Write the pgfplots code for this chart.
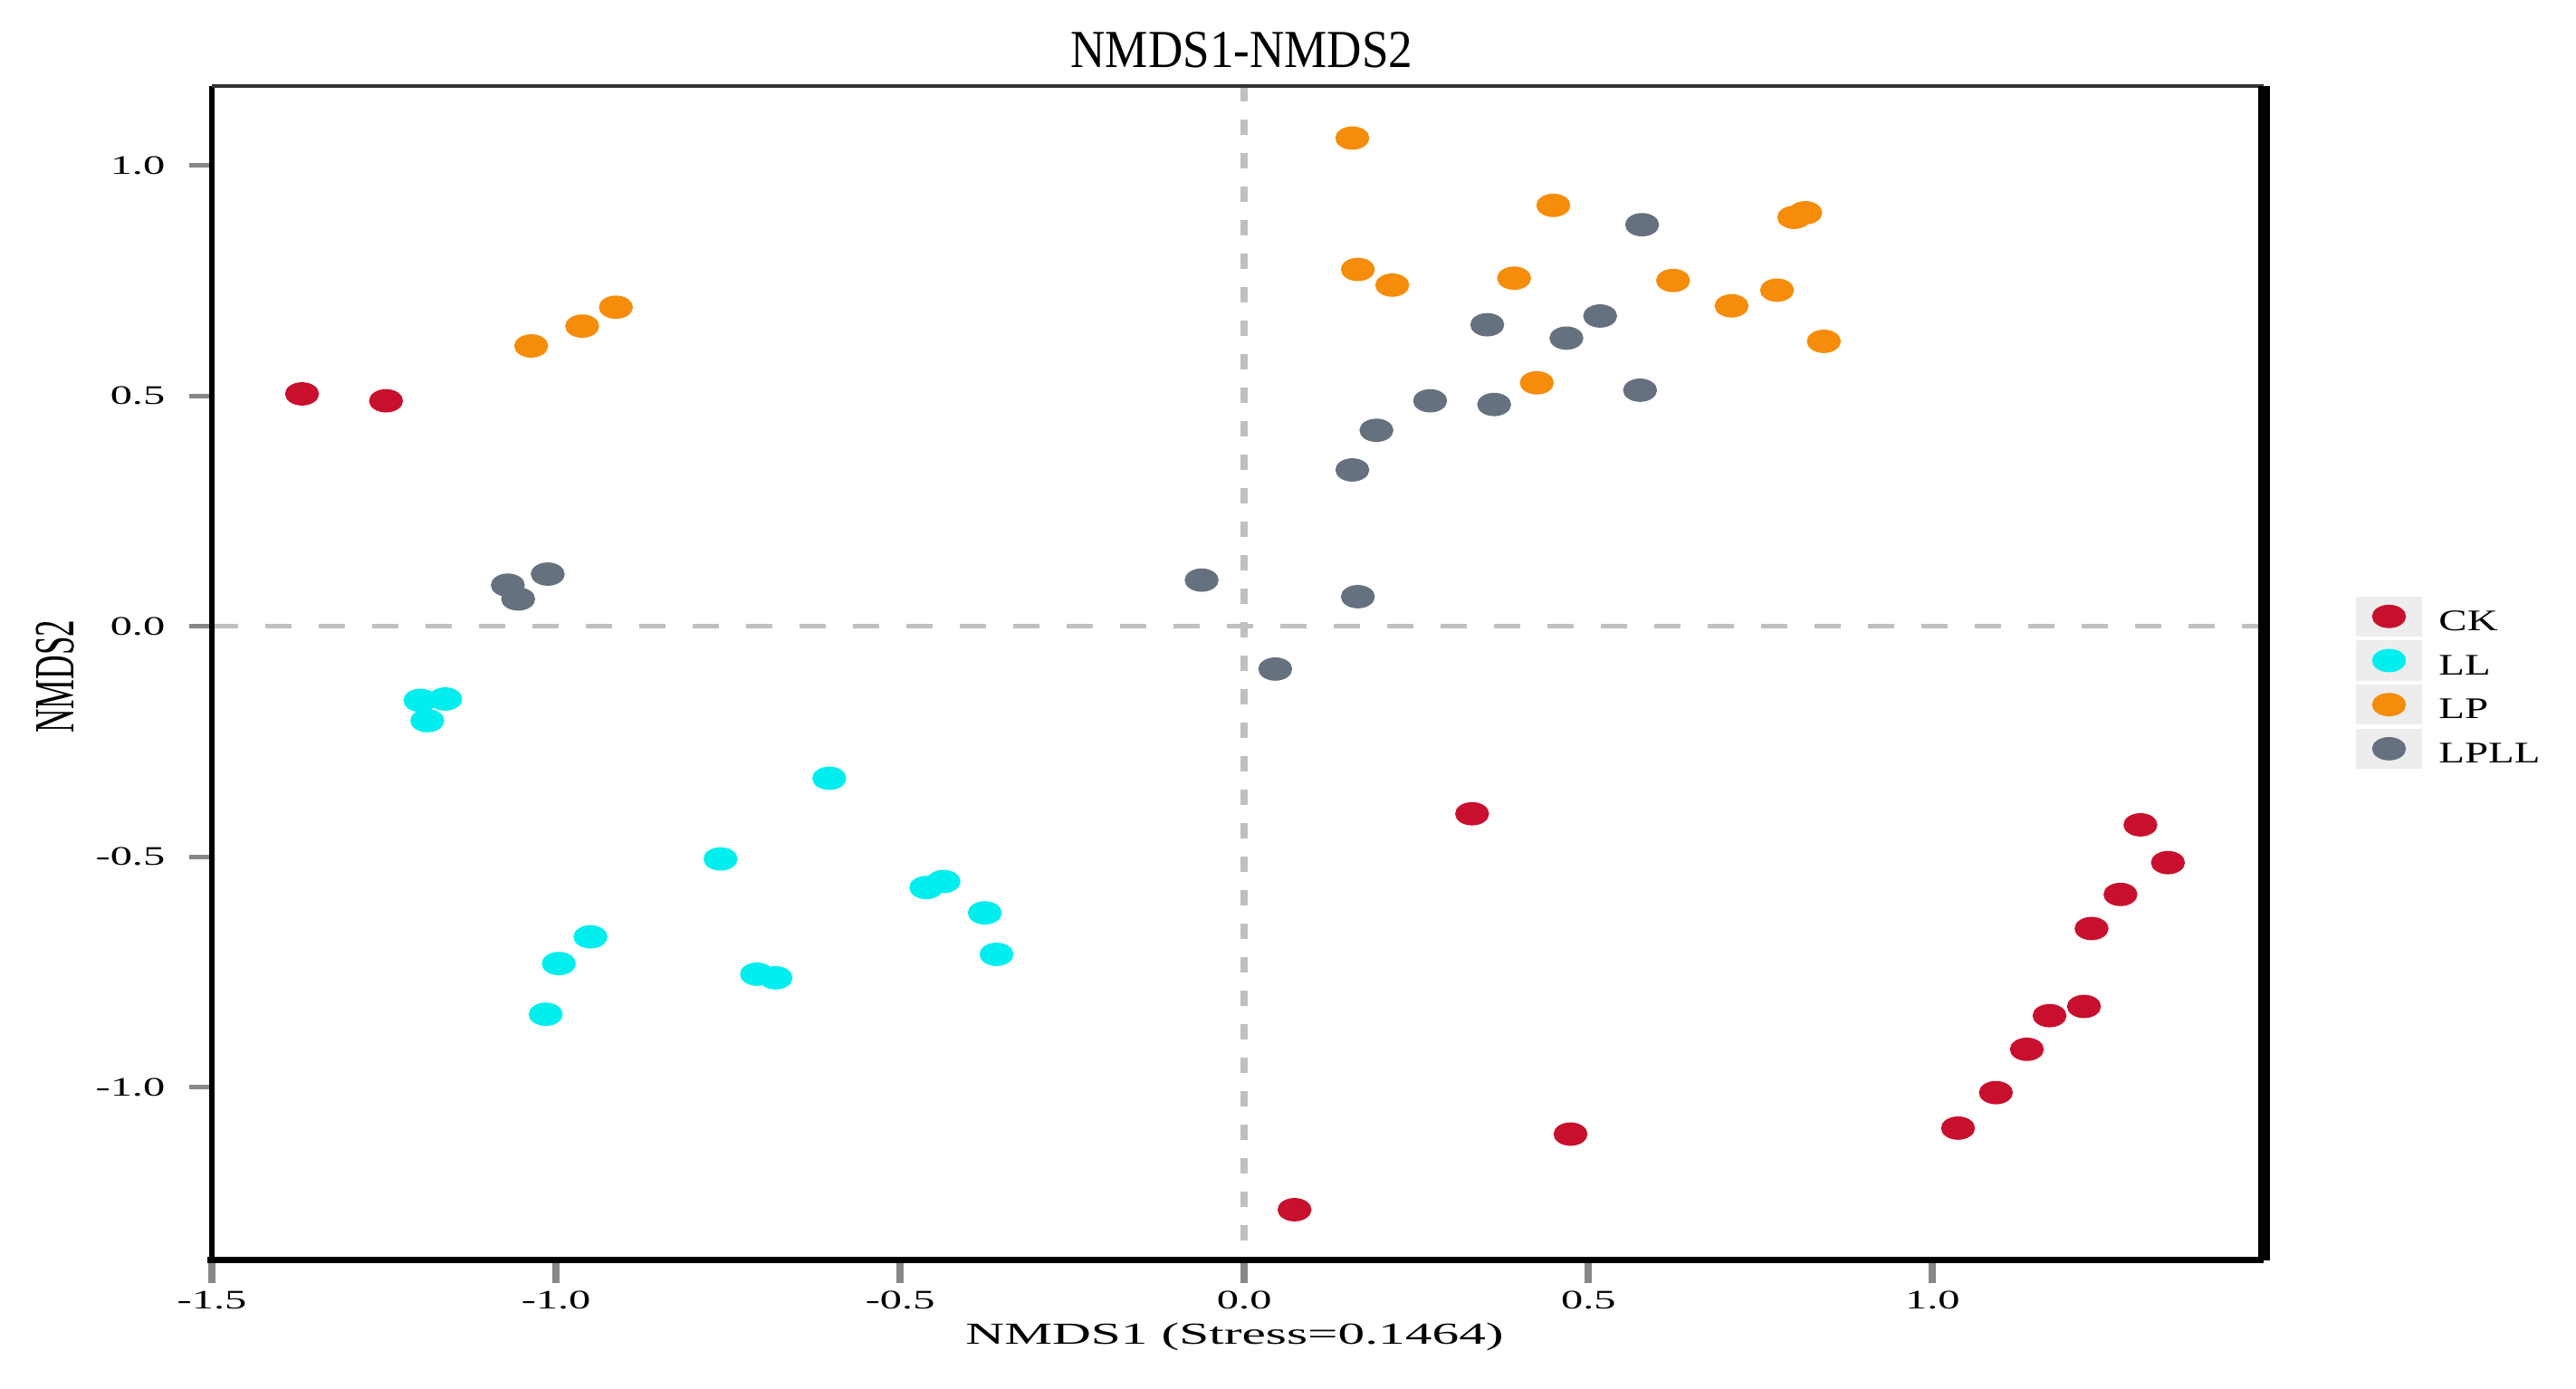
\documentclass[border=0pt]{standalone}
\usepackage{fontspec}
\setmainfont{Liberation Serif}
\newfontfamily\tickfont{Liberation Serif}[FakeStretch=1.64]
\newfontfamily\xlabfont{Liberation Serif}[FakeStretch=1.76]
\newfontfamily\legfont{Liberation Serif}[FakeStretch=1.42]
\newfontfamily\titlefont{Liberation Serif}[FakeStretch=0.9]
\usepackage{pgfplots}
\pgfplotsset{compat=1.18}

\definecolor{ck}{RGB}{200,16,46}
\definecolor{ll}{RGB}{0,238,238}
\definecolor{lp}{RGB}{245,140,10}
\definecolor{lpll}{RGB}{102,113,128}
\definecolor{refgray}{RGB}{192,192,192}
\definecolor{tickgray}{RGB}{135,135,135}

\pgfplotsset{
  grp/.style={only marks, mark=*, color=#1, mark size=1.22mm,
    mark options={xscale=1.48, fill=#1, draw=#1}},
}

\begin{document}
\begin{tikzpicture}
\useasboundingbox (0,0) rectangle (284.5mm,153.4mm);
\begin{axis}[
  at={(23.4mm,14.2mm)}, anchor=south west,
  width=226.6mm, height=129.7mm, scale only axis,
  xmin=-1.5, xmax=1.481, ymin=-1.376, ymax=1.172,
  clip=false,
  axis line style={draw=none},
  xtick pos=bottom, ytick pos=left,
  tick align=outside,
  major tick length=2.5mm,
  xtick style={color=tickgray, line width=0.8mm},
  ytick style={color=tickgray, line width=0.5mm},
  xtick={-1.5,-1.0,-0.5,0.0,0.5,1.0},
  xticklabels={-1.5,-1.0,-0.5,0.0,0.5,1.0},
  ytick={-1.0,-0.5,0.0,0.5,1.0},
  yticklabels={-1.0,-0.5,0.0,0.5,1.0},
  xticklabel style={font=\tickfont\fontsize{8.4}{10}\selectfont, inner sep=0pt, yshift=-0.8mm},
  yticklabel style={font=\tickfont\fontsize{8.4}{10}\selectfont, inner sep=0pt, xshift=-2.6mm},
  title={\titlefont\fontsize{16.8}{19}\selectfont NMDS1-NMDS2},
  title style={at={(axis description cs:0.502,1.0154)}, anchor=base, inner sep=0pt, yshift=-6pt},
  xlabel={\xlabfont\fontsize{9.6}{11}\selectfont NMDS1 (Stress=0.1464)},
  xlabel style={at={(axis description cs:0.4985,-0.0715)}, anchor=base, inner sep=0pt},
  ylabel={\fontsize{10.5}{12}\selectfont\scalebox{1}[1.7]{NMDS2}},
  ylabel style={at={(axis description cs:-0.0763,0.497)}, anchor=center, inner sep=0pt},
  legend cell align=left,
  legend image code/.code={
    \fill[black!7] (0mm,-1.4mm) rectangle (7.2mm,2.9mm);
    \draw[#1, only marks] plot coordinates {(3.6mm,0.75mm)};
    \path[draw=none] (7.2mm,0mm) -- (9.1mm,0mm);
  },
  legend style={at={(axis description cs:1.0446,0.566)}, anchor=north west,
    draw=none, fill=none, inner sep=0pt, row sep=0.43mm,
    font=\legfont\fontsize{9.4}{11}\selectfont,
    nodes={inner sep=0pt}},
]

% reference lines through the origin
\addplot[forget plot, refgray, line width=0.5mm, dash pattern=on 2.9mm off 3.0mm]
  coordinates {(-1.5,0) (1.481,0)};
\addplot[forget plot, refgray, line width=0.8mm, dash pattern=on 1.7mm off 2.0mm]
  coordinates {(0,1.172) (0,-1.376)};

\addplot[grp=ck] coordinates {
  (-1.369,0.504) (-1.247,0.489) (0.331,-0.407) (1.302,-0.431) (1.342,-0.513)
  (1.273,-0.582) (1.231,-0.656) (1.220,-0.825) (1.170,-0.845) (1.137,-0.918)
  (1.092,-1.012) (1.037,-1.089) (0.474,-1.102) (0.073,-1.266)
};
\addlegendentry{CK}

\addplot[grp=ll] coordinates {
  (-1.197,-0.161) (-1.161,-0.158) (-1.187,-0.205) (-0.603,-0.330) (-0.761,-0.505)
  (-0.950,-0.674) (-0.996,-0.732) (-1.015,-0.842) (-0.708,-0.755) (-0.681,-0.763)
  (-0.462,-0.567) (-0.437,-0.554) (-0.377,-0.622) (-0.360,-0.712)
};
\addlegendentry{LL}

\addplot[grp=lp] coordinates {
  (-1.036,0.608) (-0.962,0.651) (-0.913,0.692) (0.157,1.059) (0.449,0.913)
  (0.165,0.774) (0.215,0.740) (0.392,0.755) (0.623,0.750) (0.774,0.729)
  (0.708,0.695) (0.425,0.528) (0.799,0.887) (0.815,0.897) (0.842,0.618)
};
\addlegendentry{LP}

\addplot[grp=lpll] coordinates {
  (-1.070,0.089) (-1.055,0.059) (-1.012,0.113) (-0.062,0.100) (0.165,0.064)
  (0.045,-0.093) (0.157,0.339) (0.192,0.425) (0.270,0.489) (0.363,0.481)
  (0.353,0.654) (0.468,0.625) (0.517,0.673) (0.578,0.871) (0.575,0.512)
};
\addlegendentry{LPLL}

% frame: the four sides differ in weight
\draw[black, line width=0.6mm] (rel axis cs:0,0) -- (rel axis cs:0,1);
\draw[black!80, line width=0.45mm] (rel axis cs:0,1) -- (rel axis cs:1,1);
\draw[black, line width=1.3mm] (rel axis cs:1,1) -- (rel axis cs:1,0);
\draw[black, line width=0.7mm] (rel axis cs:-0.002,0) -- (rel axis cs:1,0);
\end{axis}
\end{tikzpicture}
\end{document}
